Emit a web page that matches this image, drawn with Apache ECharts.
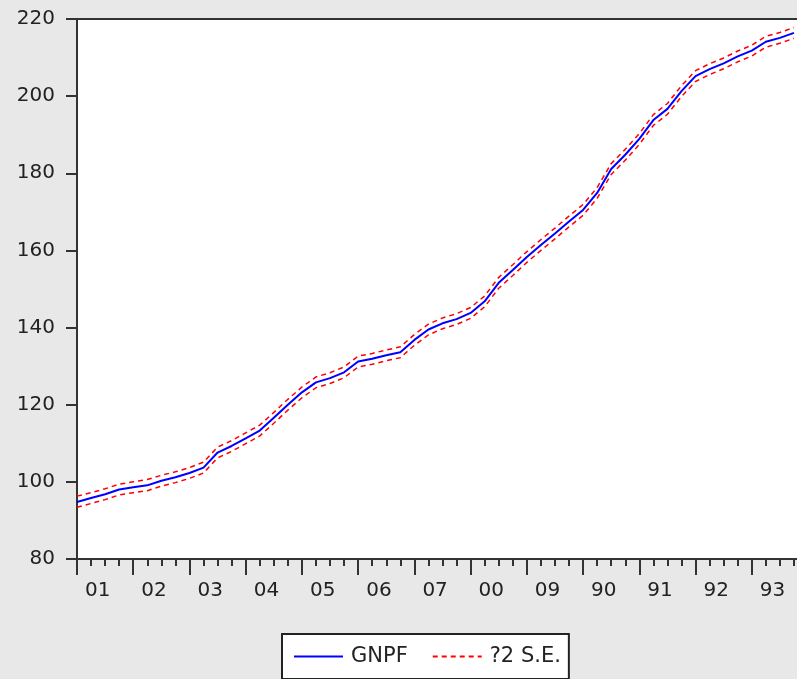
<!DOCTYPE html>
<html>
<head>
<meta charset="utf-8">
<title>GNPF</title>
<script src="https://cdn.jsdelivr.net/npm/echarts@6/dist/echarts.min.js"></script>
<style>
    html, body { margin: 0; padding: 0; background: #e8e8e8; }
    #chart { width: 797px; height: 679px; }
</style>
</head>
<body>
<div id="chart"></div>
<script>
// year labels as they appear under the axis (one per year, 4 quarters each)
var yearLabels = ['01', '02', '03', '04', '05', '06', '07', '00', '09', '90', '91', '92', '93'];

// forecast, quarterly
var gnpf = [
    94.8, 95.8, 96.8, 98.0, 98.6, 99.1, 100.3, 101.2, 102.3, 103.7,
    107.6, 109.3, 111.3, 113.3, 116.6, 120.0, 123.2, 125.8, 126.9, 128.4,
    131.2, 131.9, 132.8, 133.6, 136.8, 139.5, 141.1, 142.2, 143.8, 146.8,
    151.6, 154.9, 158.3, 161.4, 164.4, 167.5, 170.5, 174.9, 181.1, 184.8,
    188.9, 193.8, 196.7, 201.3, 205.2, 207.0, 208.5, 210.3, 211.8, 214.1,
    215.1, 216.4
];

// +2 S.E. band
var upperSE = [
    96.3, 97.2, 98.2, 99.4, 100.0, 100.6, 101.7, 102.6, 103.7, 105.1,
    109.0, 110.7, 112.7, 114.7, 118.0, 121.4, 124.6, 127.2, 128.3, 129.8,
    132.6, 133.3, 134.2, 135.0, 138.2, 140.9, 142.5, 143.6, 145.2, 148.2,
    153.0, 156.3, 159.7, 162.8, 165.8, 168.9, 171.9, 176.3, 182.5, 186.2,
    190.3, 195.2, 198.1, 202.7, 206.6, 208.4, 209.9, 211.7, 213.2, 215.5,
    216.5, 217.8
];

// -2 S.E. band
var lowerSE = [
    93.4, 94.4, 95.4, 96.6, 97.2, 97.7, 98.9, 99.8, 100.9, 102.3,
    106.2, 107.9, 109.9, 111.9, 115.2, 118.6, 121.8, 124.4, 125.5, 127.0,
    129.8, 130.5, 131.4, 132.2, 135.4, 138.1, 139.7, 140.8, 142.4, 145.4,
    150.2, 153.5, 156.9, 160.0, 163.0, 166.1, 169.1, 173.5, 179.7, 183.4,
    187.5, 192.4, 195.3, 199.9, 203.8, 205.6, 207.1, 208.9, 210.4, 212.7,
    213.7, 215.0
];

function toPairs(arr) {
    return arr.map(function (v, i) { return [i, v]; });
}

var chart = echarts.init(document.getElementById('chart'));
var font = 'DejaVu Sans';

var options = {
    backgroundColor: '#e8e8e8',
    animation: false,
    grid: {
        // plot runs a bit past the right edge of the window, like the original
        left: 77, top: 19, width: 731, bottom: 120,
        outerBoundsMode: 'none',
        containLabel: false,
        show: true,
        backgroundColor: '#ffffff',
        borderColor: '#333333',
        borderWidth: 2
    },
    xAxis: {
        type: 'value',
        min: 0,
        max: yearLabels.length * 4,
        interval: 4,
        axisLine: { show: true, onZero: false, lineStyle: { color: '#333333', width: 2 } },
        axisTick: { show: true, length: 16, lineStyle: { color: '#333333', width: 2 } },
        minorTick: { show: true, splitNumber: 4, length: 7, lineStyle: { color: '#333333', width: 2 } },
        splitLine: { show: false },
        axisLabel: {
            margin: 22,
            align: 'left',
            padding: [0, 0, 0, 8],
            fontFamily: font,
            fontSize: 20,
            color: '#222222',
            showMaxLabel: false,
            formatter: function (v) {
                var k = Math.round(v / 4);
                return k < yearLabels.length ? yearLabels[k] : '';
            }
        }
    },
    yAxis: {
        type: 'value',
        min: 80,
        max: 220,
        interval: 20,
        axisLine: { show: true, lineStyle: { color: '#333333', width: 2 } },
        axisTick: { show: true, length: 11, lineStyle: { color: '#333333', width: 2 } },
        splitLine: { show: false },
        axisLabel: {
            margin: 22,
            fontFamily: font,
            fontSize: 20,
            color: '#222222'
        }
    },
    legend: {
        left: 282,
        top: 634,
        data: ['GNPF', '?2 S.E.'],
        backgroundColor: '#ffffff',
        borderColor: '#222222',
        borderWidth: 2,
        borderRadius: 0,
        padding: [12, 8, 12, 11],
        itemWidth: 49,
        itemHeight: 14,
        itemGap: 24,
        itemStyle: { opacity: 0 },
        textStyle: { fontFamily: font, fontSize: 21, color: '#222222', padding: [0, 0, 0, 3] }
    },
    series: [
        {
            name: '?2 S.E.', type: 'line', symbol: 'none',
            data: toPairs(upperSE),
            lineStyle: { color: '#ff0000', width: 1.5, type: [5, 4] },
            itemStyle: { color: '#ff0000' }
        },
        {
            name: '?2 S.E.', type: 'line', symbol: 'none',
            data: toPairs(lowerSE),
            lineStyle: { color: '#ff0000', width: 1.5, type: [5, 4] },
            itemStyle: { color: '#ff0000' }
        },
        {
            name: 'GNPF', type: 'line', symbol: 'none',
            data: toPairs(gnpf),
            lineStyle: { color: '#0000ff', width: 2 },
            itemStyle: { color: '#0000ff' }
        }
    ]
};
chart.setOption(options);
</script>
</body>
</html>
